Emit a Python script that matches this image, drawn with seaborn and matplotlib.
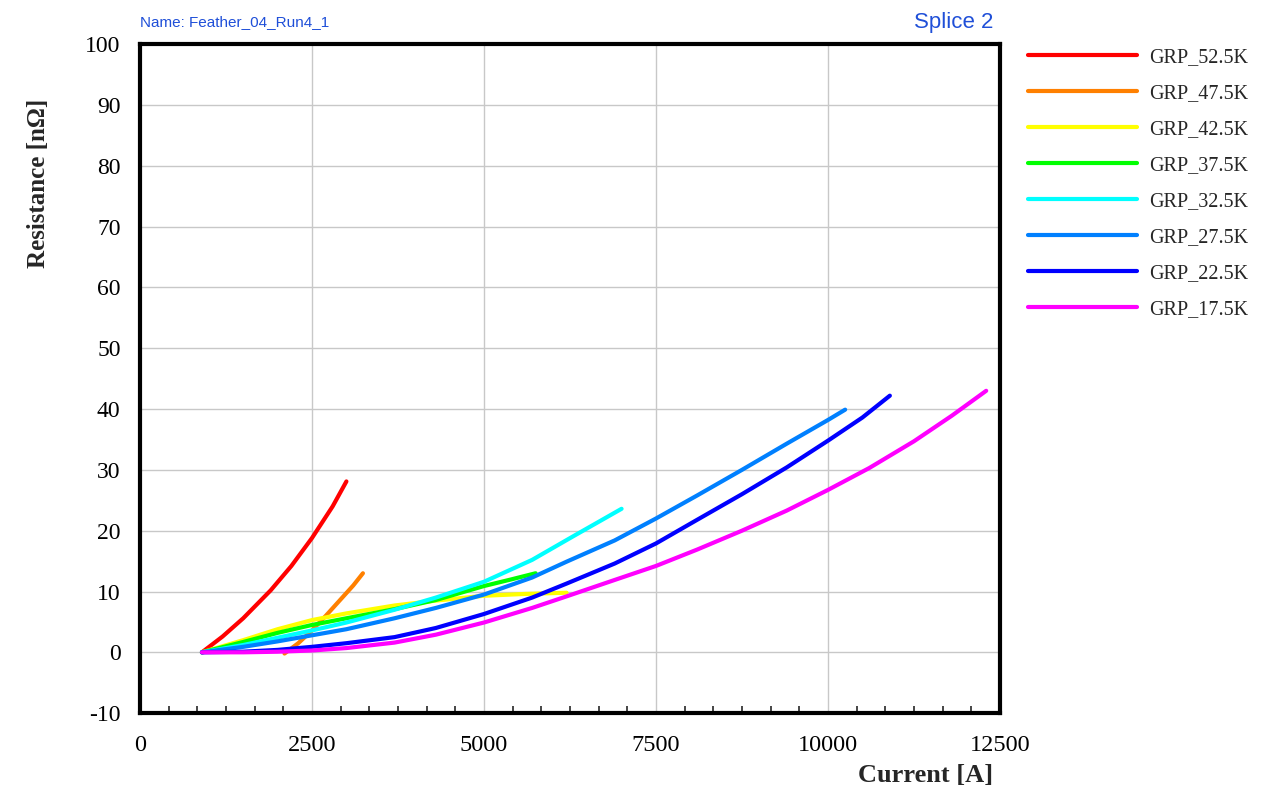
import pandas as pd
import matplotlib
matplotlib.use("Agg")
import matplotlib.pyplot as plt
from matplotlib.ticker import MultipleLocator
import seaborn as sns

# values
labels = ["GRP_52.5K", "GRP_47.5K", "GRP_42.5K", "GRP_37.5K",
          "GRP_32.5K", "GRP_27.5K", "GRP_22.5K", "GRP_17.5K"]
colors = ["#ff0000", "#ff8000", "#ffff00", "#00ff00",
          "#00ffff", "#0080ff", "#0000ff", "#ff00ff"]

i_525 = [900, 1200, 1500, 1900, 2200, 2500, 2800, 3000]
r_525 = [0, 2.6, 5.6, 10.2, 14.2, 18.8, 24.0, 28.1]

i_475 = [2100, 2300, 2500, 2700, 2900, 3100, 3240]
r_475 = [-0.2, 1.5, 3.6, 6.0, 8.5, 11.0, 13.0]

i_425 = [900, 1500, 2000, 2500, 3000, 3700, 4300, 5000, 5600, 6200]
r_425 = [0, 2.0, 3.8, 5.3, 6.4, 7.7, 8.5, 9.3, 9.6, 9.8]

i_375 = [900, 1500, 2000, 2500, 3000, 3700, 4300, 5000, 5400, 5750]
r_375 = [0, 1.7, 3.2, 4.5, 5.6, 7.1, 8.6, 10.9, 12.0, 13.0]

i_325 = [900, 1500, 2000, 2500, 3000, 3700, 4300, 5000, 5700, 6300, 7000]
r_325 = [0, 1.2, 2.4, 3.6, 4.9, 7.0, 9.0, 11.6, 15.2, 19.1, 23.6]

i_275 = [900, 1500, 2000, 2500, 3000, 3700, 4300, 5000, 5700, 6200,
         6900, 7500, 8100, 8750, 9400, 10000, 10250]
r_275 = [0, 0.9, 1.8, 2.8, 3.8, 5.6, 7.3, 9.5, 12.3, 14.9,
         18.4, 22.0, 25.8, 30.0, 34.3, 38.2, 39.9]

i_225 = [900, 1500, 2000, 2500, 3000, 3700, 4300, 5000, 5700, 6200,
         6900, 7500, 8100, 8750, 9400, 10000, 10500, 10900]
r_225 = [0, 0.1, 0.4, 0.9, 1.5, 2.5, 4.0, 6.3, 9.0, 11.3,
         14.6, 17.9, 21.8, 26.0, 30.4, 34.8, 38.6, 42.2]

i_175 = [900, 1500, 2000, 2500, 3000, 3700, 4300, 5000, 5700, 6200,
         6900, 7500, 8100, 8750, 9400, 10000, 10600, 11250, 11800, 12300]
r_175 = [0, 0, 0.1, 0.3, 0.7, 1.6, 2.9, 4.9, 7.3, 9.2,
         11.9, 14.2, 16.9, 20.0, 23.3, 26.7, 30.3, 34.7, 38.9, 43.0]

currents = [i_525, i_475, i_425, i_375, i_325, i_275, i_225, i_175]
resist = [r_525, r_475, r_425, r_375, r_325, r_275, r_225, r_175]

frames = []
for lab, xs, ys in zip(labels, currents, resist):
    frames.append(pd.DataFrame({"Current": xs, "Resistance": ys, "Group": lab}))
df = pd.concat(frames, ignore_index=True)

sns.set_style("white")
plt.rcParams["font.family"] = ["Liberation Serif", "DejaVu Serif"]
plt.rcParams["axes.unicode_minus"] = False

fig = plt.figure(figsize=(12.73, 7.88), dpi=100)
ax = fig.add_axes([0.110, 0.095, 0.6755, 0.849])

sns.lineplot(data=df, x="Current", y="Resistance", hue="Group",
             hue_order=labels, palette=colors, sort=False,
             linewidth=3, ax=ax, legend=False)

ax.set_xlim(0, 12500)
ax.set_ylim(-10, 100)
ax.xaxis.set_major_locator(MultipleLocator(2500))
ax.xaxis.set_minor_locator(MultipleLocator(2500 / 6))
ax.yaxis.set_major_locator(MultipleLocator(10))
ax.grid(True, which="major", color="#c8c8c8", linewidth=1)
ax.set_axisbelow(True)

for sp in ax.spines.values():
    sp.set_visible(True)
    sp.set_color("black")
    sp.set_linewidth(3)

ax.tick_params(axis="both", which="major", direction="in", length=9, width=1.5,
               colors="black")
ax.tick_params(axis="x", which="major", labelsize=17.5, pad=16)
ax.tick_params(axis="y", which="major", labelsize=17, pad=14)
ax.tick_params(axis="x", which="minor", direction="in", length=5, width=1.2,
               bottom=True)

ax.set_xlabel("")
ax.set_ylabel("Resistance [nΩ]", fontsize=18, fontweight="bold")
ax.yaxis.set_label_coords(-0.1047, 0.792)
fig.text(0.780, 0.0076, "Current [A]", ha="right", va="baseline",
         fontsize=19, fontweight="bold")

blue_txt = "#1f4fd8"
fig.text(0.110, 0.963, "Name: Feather_04_Run4_1", ha="left", va="bottom",
         fontsize=11, color=blue_txt, family=["Liberation Sans", "DejaVu Sans"])
fig.text(0.780, 0.958, "Splice 2", ha="right", va="bottom",
         fontsize=16, color=blue_txt, family=["Liberation Sans", "DejaVu Sans"])

handles = [plt.Line2D([0], [0], color=c, linewidth=3) for c in colors]
fig.legend(handles, labels, loc="upper left", bbox_to_anchor=(0.7935, 0.9625),
           frameon=False, fontsize=14.5, handlelength=5.4, handletextpad=0.6,
           labelspacing=0.84)

fig.savefig("out.png", dpi=100)
